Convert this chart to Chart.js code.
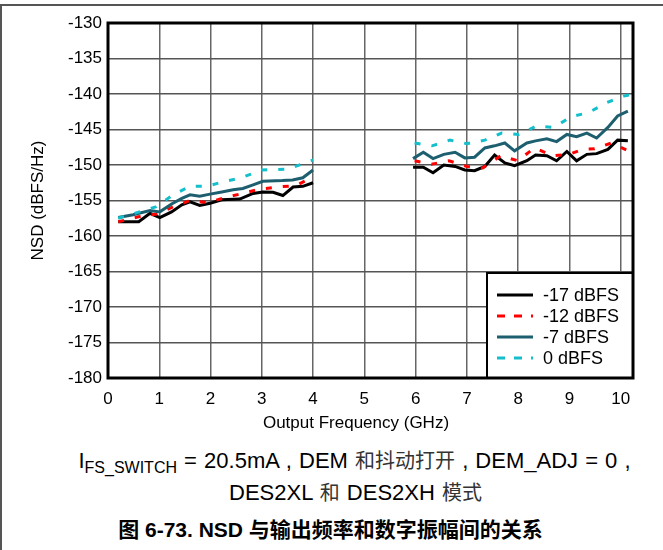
<!DOCTYPE html>
<html>
<head>
<meta charset="utf-8">
<script src="https://cdn.jsdelivr.net/npm/chart.js@4.4.1/dist/chart.umd.min.js"></script>
<style>
  body { margin: 0; background: #fff; }
  #wrap { position: relative; width: 663px; height: 550px; overflow: hidden; font-family: 'Liberation Sans', Arial, 'Noto Sans CJK SC', sans-serif; }
  #frame { position: absolute; left: 0; top: 4px; width: 663px; height: 560px; border-top: 2px solid #555; border-left: 2px solid #555; box-sizing: border-box; }
  #chart { position: absolute; left: 0; top: 0; }
  .cap { position: absolute; left: 0; width: 663px; text-align: center; color: #000; white-space: nowrap; line-height: 26px; }
  #cap1 { top: 448px; font-size: 22px; left: 23px; word-spacing: 1px; }
  #cap2 { top: 480px; font-size: 22px; left: 24px; word-spacing: 1px; }
  #cap3 { top: 517px; font-size: 21px; font-weight: bold; left: -1px; }
  .zh { color: #333; font-size: 20px; }
  sub { font-size: 16px; vertical-align: -5px; line-height: 0; }
</style>
</head>
<body>
<div id="wrap">
  <div id="frame"></div>
  <canvas id="chart" width="663" height="440"></canvas>
  <div class="cap" id="cap1">I<sub>FS_SWITCH</sub> = 20.5mA , DEM <span class="zh">和抖动打开</span> , DEM_ADJ = 0 ,</div>
  <div class="cap" id="cap2">DES2XL <span class="zh">和</span> DES2XH <span class="zh">模式</span></div>
  <div class="cap" id="cap3">图 6-73. NSD 与输出频率和数字振幅间的关系</div>
</div>
<script>
// séries (GHz, dBFS/Hz)
const seriesNames = ['-17 dBFS', '-12 dBFS', '-7 dBFS', '0 dBFS'];
const xTicks = [0, 1, 2, 3, 4, 5, 6, 7, 8, 9, 10];
const yTicks = [-180, -175, -170, -165, -160, -155, -150, -145, -140, -135, -130];

// -17 dBFS
const freqA_low = [0.2, 0.6, 0.82, 1.01, 1.24, 1.44, 1.6, 1.79, 1.99, 2.22, 2.57, 2.83, 3.02, 3.22, 3.41, 3.61, 3.8, 4.0];
const nsdA_low = [-158.0, -158.0, -156.8, -157.4, -156.6, -155.6, -155.2, -155.7, -155.4, -154.9, -154.8, -154.0, -153.8, -153.85, -154.3, -153.1, -153.0, -152.5];
const freqA_high = [5.95, 6.15, 6.34, 6.55, 6.77, 6.96, 7.15, 7.35, 7.54, 7.74, 7.93, 8.17, 8.34, 8.56, 8.75, 8.95, 9.14, 9.34, 9.53, 9.75, 9.94, 10.14];
const nsdA_high = [-150.3, -150.3, -151.1, -150.0, -150.2, -150.7, -150.8, -150.2, -148.6, -149.7, -150.1, -149.4, -148.6, -148.7, -149.4, -148.1, -149.4, -148.5, -148.4, -147.8, -146.5, -146.6];

// -12 dBFS
const freqB_low = [0.2, 0.59, 0.95, 1.27, 1.6, 1.95, 2.28, 2.63, 2.96, 3.31, 3.66, 4.0];
const nsdB_low = [-158.0, -157.3, -156.9, -155.9, -155.0, -155.3, -154.6, -154.0, -153.4, -153.1, -152.9, -151.7];
const freqB_high = [5.98, 6.31, 6.65, 7.0, 7.31, 7.66, 7.99, 8.32, 8.67, 8.99, 9.26, 9.49, 9.82, 10.12, 10.2];
const nsdB_high = [-149.4, -149.9, -149.4, -150.2, -150.4, -148.7, -149.4, -147.6, -148.7, -148.5, -147.8, -147.7, -146.9, -147.9, -148.3];

// -7 dBFS
const freqC_low = [0.2, 0.49, 0.82, 1.01, 1.24, 1.44, 1.6, 1.79, 1.99, 2.22, 2.44, 2.63, 2.83, 3.02, 3.4, 3.6, 3.8, 4.0];
const nsdC_low = [-157.4, -157.0, -156.4, -156.6, -155.5, -154.7, -154.2, -154.4, -154.1, -153.8, -153.5, -153.3, -152.8, -152.3, -152.2, -152.1, -151.8, -150.7];
const freqC_high = freqA_high;
const nsdC_high = [-149.1, -148.2, -149.1, -148.5, -148.2, -149.0, -148.9, -147.6, -147.3, -146.9, -148.0, -146.9, -146.6, -146.3, -146.7, -145.7, -146.0, -145.5, -146.2, -144.7, -143.1, -142.4];

// 0 dBFS
const freqD_low = [0.2, 0.93, 1.27, 1.6, 1.93, 2.28, 2.6, 3.0, 3.5, 4.0];
const nsdD_low = [-157.5, -155.9, -154.2, -153.0, -153.0, -152.3, -151.8, -150.7, -150.6, -149.3];
const freqD_high = [5.98, 6.32, 6.67, 7.0, 7.35, 7.68, 8.01, 8.36, 8.69, 9.04, 9.38, 9.73, 10.06, 10.2];
const nsdD_high = [-146.9, -147.3, -146.5, -147.0, -146.5, -145.5, -145.7, -144.5, -144.7, -143.2, -142.6, -141.2, -140.3, -140.1];

function pts(fl, vl, fh, vh) {
    const a = fl.map((f, i) => ({ x: f, y: vl[i] }));
    const b = fh.map((f, i) => ({ x: f, y: vh[i] }));
    return a.concat([{ x: 5, y: null }], b);
}

const colors = ['#000000', '#ff0000', '#1d5f6f', '#14bfcc'];
const dashes = [[], [6, 11], [], [6, 11]];

Chart.defaults.font.family = "'Liberation Sans', Arial, sans-serif";
Chart.defaults.color = '#000';

// cadre noir épais autour de la zone de tracé + légende dans le coin
const framePlugin = {
    id: 'frame',
    afterDraw(chart) {
        const ctx = chart.ctx;
        const a = chart.chartArea;
        ctx.save();
        // légende
        const lx = 487, ly = 273, lw = a.right - 487, lh = a.bottom - 273;
        ctx.fillStyle = '#fff';
        ctx.fillRect(lx, ly, lw, lh);
        ctx.strokeStyle = '#000';
        ctx.lineWidth = 2;
        ctx.strokeRect(lx, ly, lw, lh);
        ctx.font = "18px 'Liberation Sans', Arial, sans-serif";
        ctx.textBaseline = 'middle';
        chart.data.datasets.forEach((ds, i) => {
            const y = 295 + i * 21;
            ctx.beginPath();
            ctx.strokeStyle = ds.borderColor;
            ctx.lineWidth = 3;
            ctx.setLineDash(dashes[i].length ? [8, 9] : []);
            ctx.moveTo(497, y);
            ctx.lineTo(533, y);
            ctx.stroke();
            ctx.setLineDash([]);
            ctx.fillStyle = '#000';
            ctx.fillText(ds.label, 543, y + 1);
        });
        // cadre
        ctx.strokeStyle = '#000';
        ctx.lineWidth = 3;
        ctx.strokeRect(a.left, a.top, a.right - a.left, a.bottom - a.top);
        // titre axe x
        ctx.font = "17px 'Liberation Sans', Arial, sans-serif";
        ctx.textAlign = 'center';
        ctx.fillText('Output Frequency (GHz)', 356, 423);
        ctx.restore();
    }
};

const ctx = document.getElementById('chart').getContext('2d');
new Chart(ctx, {
    type: 'line',
    data: {
        datasets: seriesNames.map((name, i) => ({
            label: name,
            data: [
                pts(freqA_low, nsdA_low, freqA_high, nsdA_high),
                pts(freqB_low, nsdB_low, freqB_high, nsdB_high),
                pts(freqC_low, nsdC_low, freqC_high, nsdC_high),
                pts(freqD_low, nsdD_low, freqD_high, nsdD_high)
            ][i],
            borderColor: colors[i],
            backgroundColor: colors[i],
            borderWidth: 3,
            borderDash: dashes[i],
            borderCapStyle: 'butt',
            pointRadius: 0,
            tension: 0,
            spanGaps: false,
            order: 3 - i
        }))
    },
    options: {
        responsive: false,
        animation: false,
        layout: { padding: { left: 0, top: 23, right: 30, bottom: 0 } },
        plugins: {
            legend: { display: false },
            tooltip: { enabled: false }
        },
        scales: {
            x: {
                type: 'linear',
                min: 0,
                max: 10.24,
                afterFit: s => { s.height = 62; },
                afterBuildTicks: s => { s.ticks = xTicks.map(v => ({ value: v })); },
                grid: { color: '#666', lineWidth: 1.5, drawTicks: false },
                border: { display: false },
                ticks: { font: { size: 17 }, padding: 11, maxRotation: 0 }
            },
            y: {
                min: -180,
                max: -130,
                afterFit: s => { s.width = 108; },
                afterBuildTicks: s => { s.ticks = yTicks.map(v => ({ value: v })); },
                grid: { color: '#555', lineWidth: 1.5, drawTicks: false },
                border: { display: false },
                ticks: { font: { size: 17 }, padding: 6 },
                title: {
                    display: true,
                    text: 'NSD (dBFS/Hz)',
                    font: { size: 17 },
                    padding: { top: 28, bottom: 0 }
                }
            }
        }
    },
    plugins: [framePlugin]
});
</script>
</body>
</html>
